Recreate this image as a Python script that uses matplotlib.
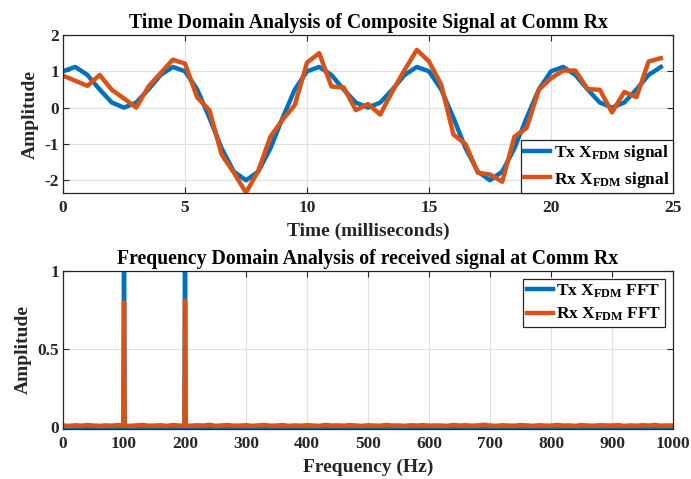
import numpy as np
import matplotlib
matplotlib.use("Agg")
import matplotlib.pyplot as plt

plt.rcParams.update({
    "font.family": ["Liberation Serif", "DejaVu Serif"],
    "font.weight": "bold",
    "mathtext.fontset": "custom",
    "mathtext.rm": "Liberation Serif:bold",
    "mathtext.it": "Liberation Serif:bold",
    "mathtext.bf": "Liberation Serif:bold",
    "axes.unicode_minus": False,
})

BLUE = "#0072BD"
ORANGE = "#D95319"
AXC = "#262626"

# Time samples (ms)
time_ms = [0.5 * k for k in range(50)]

# Transmitted composite signal
tx_signal = [1.00, 1.12, 0.90, 0.50, 0.14, 0.00, 0.14, 0.50, 0.90, 1.12,
             1.00, 0.50, -0.28, -1.12, -1.76, -2.00, -1.76, -1.12, -0.28, 0.50,
             1.00, 1.12, 0.90, 0.50, 0.14, 0.00, 0.14, 0.50, 0.90, 1.12,
             1.00, 0.50, -0.28, -1.12, -1.76, -2.00, -1.76, -1.12, -0.28, 0.50,
             1.00, 1.12, 0.90, 0.50, 0.14, 0.00, 0.14, 0.50, 0.90, 1.12]

# Received composite signal
rx_signal = [0.88, 0.74, 0.60, 0.90, 0.49, 0.25, 0.00, 0.58, 0.95, 1.32,
             1.21, 0.28, -0.07, -1.29, -1.79, -2.34, -1.74, -0.80, -0.33, 0.07,
             1.24, 1.50, 0.58, 0.56, -0.07, 0.10, -0.19, 0.45, 1.04, 1.59,
             1.27, 0.63, -0.74, -1.01, -1.79, -1.84, -2.04, -0.80, -0.56, 0.49,
             0.81, 1.02, 1.02, 0.51, 0.49, -0.13, 0.43, 0.29, 1.27, 1.36]

# Spectrum: tone frequencies and magnitudes
tone_freqs = [100, 200]
tx_tone_amps = [1.0, 1.0]
rx_tone_amps = [0.80, 0.81]

# Received noise floor sampled every 10 Hz from 0 to 1000 Hz
floor_freqs = list(range(0, 1001, 10))
rx_floor = [0.012, 0.010, 0.014, 0.011, 0.016, 0.012, 0.010, 0.013, 0.011, 0.015,
            0.012, 0.010, 0.013, 0.016, 0.011, 0.012, 0.014, 0.010, 0.015, 0.012,
            0.012, 0.011, 0.014, 0.012, 0.017, 0.010, 0.013, 0.015, 0.011, 0.012,
            0.014, 0.010, 0.013, 0.016, 0.011, 0.012, 0.015, 0.010, 0.013, 0.011,
            0.014, 0.012, 0.010, 0.016, 0.012, 0.013, 0.011, 0.015, 0.012, 0.010,
            0.014, 0.012, 0.011, 0.016, 0.012, 0.013, 0.010, 0.014, 0.012, 0.015,
            0.011, 0.013, 0.012, 0.010, 0.016, 0.012, 0.014, 0.011, 0.013, 0.017,
            0.012, 0.010, 0.014, 0.012, 0.011, 0.015, 0.013, 0.010, 0.014, 0.012,
            0.011, 0.016, 0.012, 0.013, 0.010, 0.015, 0.012, 0.011, 0.014, 0.013,
            0.012, 0.015, 0.010, 0.013, 0.011, 0.014, 0.012, 0.016, 0.011, 0.013,
            0.012]
f_min, f_max = 0, 1000


def spectrum(freqs, floor, peaks, amps):
    pts = dict(zip(freqs, floor))
    fl = dict(zip(freqs, floor))
    for f, a in zip(peaks, amps):
        base = fl.get(f, floor[0])
        pts[f - 1] = base
        pts[f] = a
        pts[f + 1] = base
    xs = sorted(pts)
    return xs, [pts[x] for x in xs]


tx_f, tx_a = spectrum(floor_freqs, [0.0] * len(floor_freqs), tone_freqs, tx_tone_amps)
rx_f, rx_a = spectrum(floor_freqs, rx_floor, tone_freqs, rx_tone_amps)

fig = plt.figure(figsize=(6.91, 4.79), dpi=100)
ax1 = fig.add_axes([0.0912, 0.597, 0.8828, 0.330])
ax2 = fig.add_axes([0.0912, 0.1044, 0.8828, 0.330])


def style(ax):
    ax.grid(True, color="#dfdfdf", linewidth=0.8)
    ax.set_axisbelow(True)
    ax.tick_params(direction="in", length=4, width=0.8, colors=AXC,
                   labelsize=12.5, top=True, right=True)
    ax.tick_params(axis="y", pad=3)
    ax.tick_params(axis="x", pad=5)
    for s in ax.spines.values():
        s.set_color(AXC)
        s.set_linewidth(0.9)
    for lab in ax.get_xticklabels() + ax.get_yticklabels():
        lab.set_fontweight("bold")


leg_kw = dict(fontsize=12.5, handlelength=1.5, handletextpad=0.2,
              borderpad=0.2, labelspacing=0.35, fancybox=False,
              framealpha=1.0, edgecolor=AXC)

# Time domain
ax1.plot(time_ms, tx_signal, color=BLUE, lw=3.2, label=r"Tx X$_{\rm FDM}$ signal")
ax1.plot(time_ms, rx_signal, color=ORANGE, lw=3.2, label=r"Rx X$_{\rm FDM}$ signal")
ax1.set_xlim(0, 25)
ax1.set_ylim(-2.35, 2)
ax1.set_xticks([0, 5, 10, 15, 20, 25])
ax1.set_yticks([-2, -1, 0, 1, 2])
style(ax1)
ax1.set_title("Time Domain Analysis of Composite Signal at Comm Rx",
              fontsize=14.2, fontweight="bold", color="black", pad=5)
ax1.set_xlabel("Time (milliseconds)", fontsize=14, fontweight="bold", color=AXC, labelpad=5)
ax1.set_ylabel("Amplitude", fontsize=14, fontweight="bold", color=AXC, labelpad=4)
leg1 = ax1.legend(loc="lower right", borderaxespad=0.0, **leg_kw)
leg1.get_frame().set_linewidth(0.9)

# Frequency domain
ax2.plot(tx_f, tx_a, color=BLUE, lw=3.2, label=r"Tx X$_{\rm FDM}$ FFT")
ax2.plot(rx_f, rx_a, color=ORANGE, lw=3.2, label=r"Rx X$_{\rm FDM}$ FFT")
ax2.set_xlim(f_min, f_max)
ax2.set_ylim(-0.01, 1)
ax2.set_xticks(list(range(0, 1001, 100)))
ax2.set_yticks([0, 0.5, 1])
ax2.set_yticklabels(["0", "0.5", "1"])
style(ax2)
ax2.set_title("Frequency Domain Analysis of received signal at Comm Rx",
              fontsize=14.2, fontweight="bold", color="black", pad=5)
ax2.set_xlabel("Frequency (Hz)", fontsize=14, fontweight="bold", color=AXC, labelpad=5)
ax2.set_ylabel("Amplitude", fontsize=14, fontweight="bold", color=AXC, labelpad=4)
leg2 = ax2.legend(loc="upper right", borderaxespad=0.45, **leg_kw)
leg2.get_frame().set_linewidth(0.9)

fig.savefig("out.png", dpi=100)
